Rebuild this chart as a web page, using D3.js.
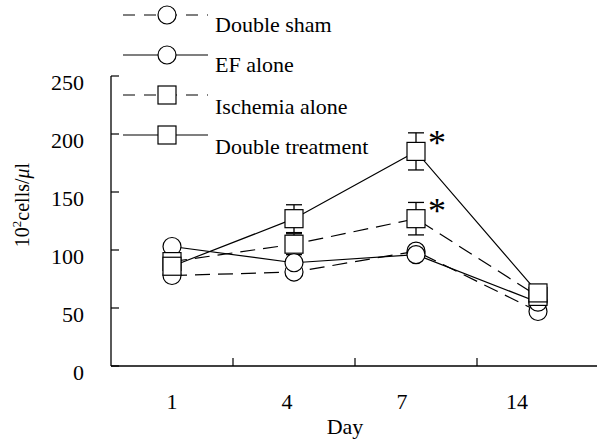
<!DOCTYPE html>
<html>
<head>
<meta charset="utf-8">
<script src="https://cdn.jsdelivr.net/npm/d3@7.9.0/dist/d3.min.js"></script>
<style>
  body { margin: 0; background: #fff; }
  svg { display: block; font-family: "Liberation Serif", "DejaVu Serif", serif; }
</style>
</head>
<body>
<svg width="597" height="439"></svg>
<script>
// chart values
const days = ['1', '4', '7', '14'];
const yTicks = [0, 50, 100, 150, 200, 250];

const doubleSham = [78, 81, 99, 47];
const efAlone = [103, 89, 96, 55];
const ischemiaAlone = [90, 105, 127, 60];
const doubleTreatment = [86, 127, 185, 63];

const doubleShamErr = [3, 3, 3, 3];
const efAloneErr = [3, 3, 3, 3];
const ischemiaAloneErr = [4, 9, 14, 4];
const doubleTreatmentErr = [4, 12, 16, 4];

const seriesNames = ['Double sham', 'EF alone', 'Ischemia alone', 'Double treatment'];
const starred = [null, null, [2], [2]];

let series = [
  {name: seriesNames[0], values: doubleSham, err: doubleShamErr, dashed: true, shape: 'circle'},
  {name: seriesNames[1], values: efAlone, err: efAloneErr, dashed: false, shape: 'circle'},
  {name: seriesNames[2], values: ischemiaAlone, err: ischemiaAloneErr, dashed: true, shape: 'square'},
  {name: seriesNames[3], values: doubleTreatment, err: doubleTreatmentErr, dashed: false, shape: 'square'},
];

const svg = d3.select('svg');
const plotLeft = 111, plotRight = 599, plotTop = 76, plotBottom = 366;

let x = d3.scaleBand().domain(days).range([plotLeft, plotRight]);
let xLabel = d3.scalePoint().domain(days).range([172, 517]);
let y = d3.scaleLinear().domain([0, 250]).range([plotBottom, plotTop]);

const dash = '15,8';
const r = 9;

// axes
svg.append('line').attr('x1', plotLeft).attr('x2', plotLeft).attr('y1', plotTop).attr('y2', plotBottom)
  .attr('stroke', '#000').attr('stroke-width', 1.3);
svg.append('line').attr('x1', plotLeft).attr('x2', 597).attr('y1', plotBottom).attr('y2', plotBottom)
  .attr('stroke', '#000').attr('stroke-width', 1.3);

svg.selectAll('.ytick').data(yTicks).join('line')
  .attr('x1', plotLeft).attr('x2', plotLeft + 8)
  .attr('y1', d => y(d)).attr('y2', d => y(d))
  .attr('stroke', '#000').attr('stroke-width', 1.2);
svg.selectAll('.ylab').data(yTicks).join('text')
  .attr('x', 84).attr('y', d => y(d) + 14)
  .attr('text-anchor', 'end').attr('font-size', 22)
  .text(d => d);

// x ticks sit on the band edges
svg.selectAll('.xtick').data(days.slice(1)).join('line')
  .attr('x1', d => x(d)).attr('x2', d => x(d))
  .attr('y1', plotBottom).attr('y2', plotBottom - 8)
  .attr('stroke', '#000').attr('stroke-width', 1.2);
svg.selectAll('.xlab').data(days).join('text')
  .attr('x', d => xLabel(d)).attr('y', 409)
  .attr('text-anchor', 'middle').attr('font-size', 22)
  .text(d => d);

svg.append('text').attr('x', 345).attr('y', 434)
  .attr('text-anchor', 'middle').attr('font-size', 22).text('Day');

svg.append('text')
  .attr('transform', 'translate(29,205) rotate(-90)')
  .attr('text-anchor', 'middle').attr('font-size', 20)
  .html('10<tspan dy="-8" font-size="13">2</tspan><tspan dy="8">cells/</tspan><tspan font-style="italic">μ</tspan>l');

// lines
let line = d3.line().x((d, i) => x(days[i]) + x.bandwidth() / 2).y(d => y(d));
series.forEach(s => {
  svg.append('path').attr('d', line(s.values))
    .attr('fill', 'none').attr('stroke', '#000').attr('stroke-width', 1.2)
    .attr('stroke-dasharray', s.dashed ? dash : null);
});

// error bars
series.forEach(s => {
  s.values.forEach((v, i) => {
    let cx = x(days[i]) + x.bandwidth() / 2;
    let g = svg.append('g').attr('stroke', '#000').attr('stroke-width', 1.3);
    g.append('line').attr('x1', cx).attr('x2', cx).attr('y1', y(v - s.err[i])).attr('y2', y(v + s.err[i]));
    [v - s.err[i], v + s.err[i]].forEach(e => {
      g.append('line').attr('x1', cx - 8).attr('x2', cx + 8).attr('y1', y(e)).attr('y2', y(e));
    });
  });
});

function marker(g, shape, cx, cy) {
  if (shape === 'circle') {
    g.append('circle').attr('cx', cx).attr('cy', cy).attr('r', r)
      .attr('fill', '#fff').attr('stroke', '#000').attr('stroke-width', 1.2);
  } else {
    g.append('rect').attr('x', cx - r).attr('y', cy - r).attr('width', 2 * r).attr('height', 2 * r)
      .attr('fill', '#fff').attr('stroke', '#000').attr('stroke-width', 1.2);
  }
}

series.forEach(s => {
  s.values.forEach((v, i) => marker(svg, s.shape, x(days[i]) + x.bandwidth() / 2, y(v)));
});

// significance stars
series.forEach((s, k) => {
  if (!starred[k]) return;
  starred[k].forEach(i => {
    svg.append('text')
      .attr('x', x(days[i]) + x.bandwidth() / 2 + 12)
      .attr('y', y(s.values[i]) + 4)
      .attr('font-size', 36).text('*');
  });
});

// legend
series.forEach((s, k) => {
  let ly = 15 + k * 40;
  let g = svg.append('g');
  g.append('line').attr('x1', 123).attr('x2', 208).attr('y1', ly).attr('y2', ly)
    .attr('stroke', '#000').attr('stroke-width', 1.2)
    .attr('stroke-dasharray', s.dashed ? '12,9' : null);
  marker(g, s.shape, 167, ly);
  g.append('text').attr('x', 215).attr('y', ly + 17 + (k > 1 ? 2 : 0))
    .attr('font-size', 22).text(s.name);
});
</script>
</body>
</html>
